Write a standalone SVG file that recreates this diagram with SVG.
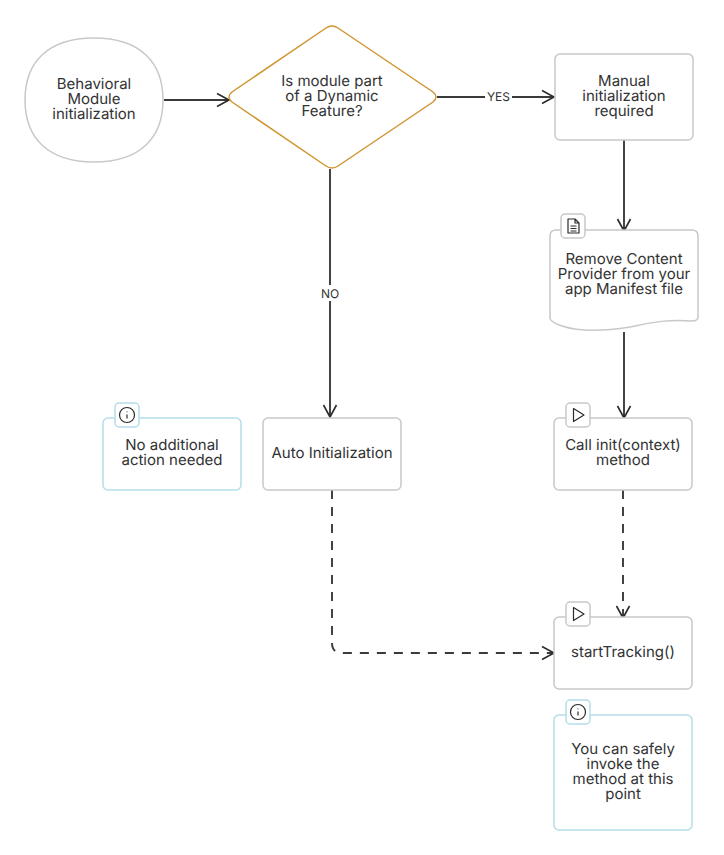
<svg xmlns="http://www.w3.org/2000/svg" width="724" height="855" viewBox="0 0 724 855">
<style>
text{font-family:Inter,"Liberation Sans",sans-serif;font-size:15px;fill:#333;text-anchor:middle;text-rendering:geometricPrecision}
.g{fill:#fff;stroke:#c8c8c8;stroke-width:1.5}
.b{fill:#fff;stroke:#b5dde9;stroke-width:1.5}
.c{fill:none;stroke:#3a3a3a;stroke-width:1.9}
.d{stroke-dasharray:9 8}
.i{fill:none;stroke:#2b2b2b;stroke-width:1.2;stroke-linejoin:round}
</style>
<defs>
<marker id="a" markerUnits="userSpaceOnUse" markerWidth="16" markerHeight="16" refX="13" refY="8" orient="auto"><path d="M1 1.500L13 8L1 14.500" fill="none" stroke="#2b2b2b" stroke-width="1.600"/></marker>
<g id="play"><rect x="0" y="0" width="24" height="24" rx="4" class="g"/><path d="M7.500 5.500L18 12L7.500 18.500Z" class="i"/></g>
<g id="info"><rect x="0" y="0" width="24" height="24" rx="4" class="b"/><circle cx="12" cy="12" r="7.500" class="i"/><path d="M12 11.500V15.500M12 8.500V9.300" class="i"/></g>
</defs>
<g id="connectors">
<path class="c" d="M164 100H229" marker-end="url(#a)"/>
<path class="c" d="M437 97H554" marker-end="url(#a)"/>
<path class="c" d="M330 169V417" marker-end="url(#a)"/>
<path class="c" d="M624 139V231" marker-end="url(#a)"/>
<path class="c" d="M624 332V418" marker-end="url(#a)"/>
<path class="c d" d="M623 490V618" marker-end="url(#a)"/>
<path class="c d" d="M332 490V643Q332 653 342 653H554" marker-end="url(#a)"/>
</g>
<g id="edge-labels">
<rect x="485" y="89" width="27" height="16" fill="#fff"/><text x="498.500" y="101" style="font-size:12px">YES</text>
<rect x="319" y="285" width="22" height="16" fill="#fff"/><text x="330" y="298" style="font-size:12px">NO</text>
</g>
<g id="start">
<path class="g" d="M94 38C140 38 163 62 163 100C163 138 140 162 94 162C48 162 25 138 25 100C25 62 48 38 94 38Z"/>
<text x="94" y="89">Behavioral<tspan x="94" dy="15">Module</tspan><tspan x="94" dy="15">initialization</tspan></text>
</g>
<g id="decision">
<path d="M326 28Q332 24 338 28L433 92Q439 97 433 102L338 166Q332 170 326 166L232 102Q226 97 232 92Z" fill="#fff" stroke="#d0952f" stroke-width="1.500"/>
<text x="332" y="86">Is module part<tspan x="332" dy="15">of a Dynamic</tspan><tspan x="332" dy="15">Feature?</tspan></text>
</g>
<g id="manual">
<rect class="g" x="555" y="54" width="138" height="86" rx="5"/>
<text x="624" y="86">Manual<tspan x="624" dy="15">initialization</tspan><tspan x="624" dy="15">required</tspan></text>
</g>
<g id="remove">
<path class="g" d="M556 230H692Q698 230 698 236V317Q698 321 692 321C665 319 650 323 630 327C605 331 580 332 562 326Q550 322 550 318V236Q550 230 556 230Z"/>
<text x="624" y="264">Remove Content<tspan x="624" dy="15">Provider from your</tspan><tspan x="624" dy="15">app Manifest file</tspan></text>
<rect class="g" x="561" y="214" width="24" height="24" rx="4"/>
<path class="i" d="M568 219H575L579 223V233H568ZM575 219V223H579M570.500 226H576.500M570.500 228.500H576.500M570.500 231H576.500"/>
</g>
<g id="note-left">
<rect class="b" x="103" y="418" width="138" height="72" rx="5"/>
<use href="#info" x="115" y="403"/>
<text x="172" y="450">No additional<tspan x="172" dy="15">action needed</tspan></text>
</g>
<g id="auto">
<rect class="g" x="263" y="418" width="138" height="72" rx="5"/>
<text x="332" y="458">Auto Initialization</text>
</g>
<g id="init">
<rect class="g" x="554" y="418" width="138" height="72" rx="5"/>
<use href="#play" x="566" y="403"/>
<text x="623" y="450">Call init(context)<tspan x="623" dy="15">method</tspan></text>
</g>
<g id="tracking">
<rect class="g" x="554" y="617" width="138" height="72" rx="5"/>
<use href="#play" x="566" y="602"/>
<text x="623" y="657">startTracking()</text>
</g>
<g id="note-bottom">
<rect class="b" x="554" y="715" width="138" height="115" rx="5"/>
<use href="#info" x="566" y="700"/>
<text x="623" y="754">You can safely<tspan x="623" dy="15">invoke the</tspan><tspan x="623" dy="15">method at this</tspan><tspan x="623" dy="15">point</tspan></text>
</g>
</svg>
